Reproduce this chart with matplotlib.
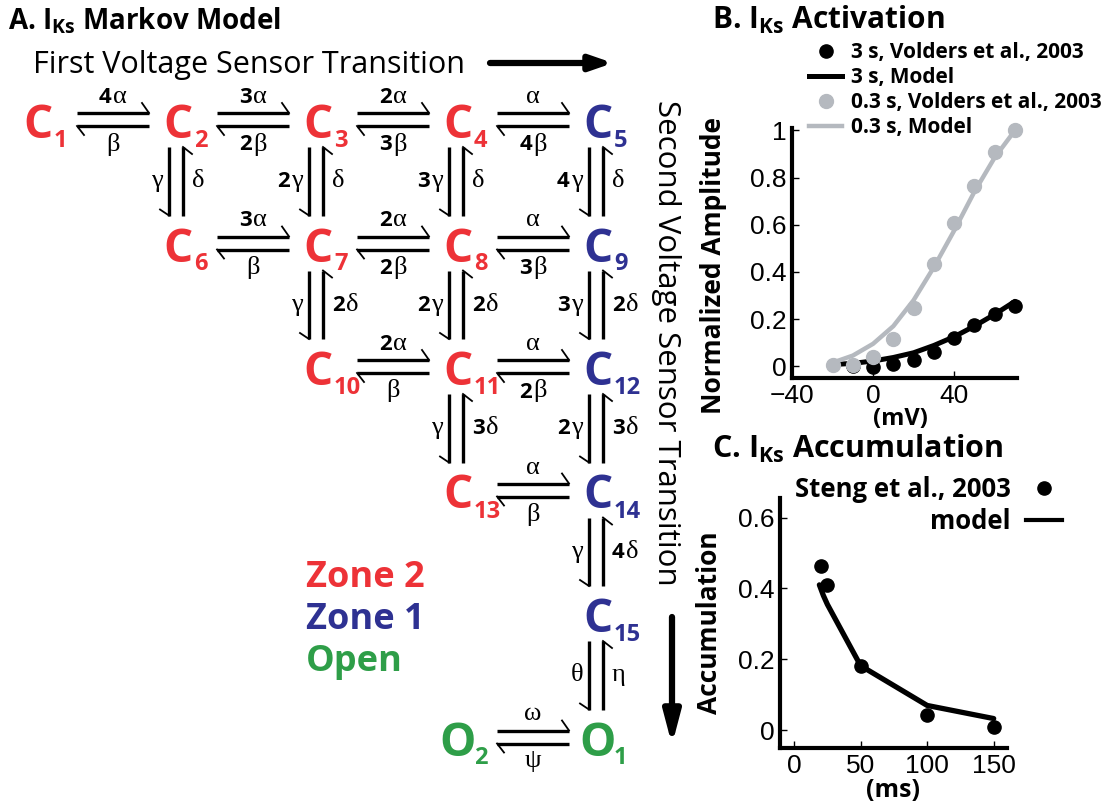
import re
import matplotlib
matplotlib.use("Agg")
import matplotlib.pyplot as plt
from matplotlib.lines import Line2D
from matplotlib.offsetbox import TextArea, HPacker, AnnotationBbox

plt.rcParams['font.family'] = ['Open Sans', 'DejaVu Sans']
plt.rcParams['mathtext.default'] = 'regular'

# ---- panel A: Markov model states and rates ----
states = ["C1", "C2", "C3", "C4", "C5", "C6", "C7", "C8", "C9", "C10",
          "C11", "C12", "C13", "C14", "C15", "O1", "O2"]
state_col = [0, 1, 2, 3, 4, 1, 2, 3, 4, 2, 3, 4, 3, 4, 4, 4, 3]
state_row = [0, 0, 0, 0, 0, 1, 1, 1, 1, 2, 2, 2, 3, 3, 4, 5, 5]
state_zone = ["Zone 2", "Zone 2", "Zone 2", "Zone 2", "Zone 1",
              "Zone 2", "Zone 2", "Zone 2", "Zone 1",
              "Zone 2", "Zone 2", "Zone 1",
              "Zone 2", "Zone 1", "Zone 1", "Open", "Open"]

h_pairs = [("C1", "C2"), ("C2", "C3"), ("C3", "C4"), ("C4", "C5"),
           ("C6", "C7"), ("C7", "C8"), ("C8", "C9"),
           ("C10", "C11"), ("C11", "C12"), ("C13", "C14"), ("O2", "O1")]
h_fwd = ["4α", "3α", "2α", "α", "3α", "2α", "α", "2α", "α", "α", "ω"]
h_bwd = ["β", "2β", "3β", "4β", "β", "2β", "3β", "β", "2β", "β", "ψ"]

v_pairs = [("C2", "C6"), ("C3", "C7"), ("C4", "C8"), ("C5", "C9"),
           ("C7", "C10"), ("C8", "C11"), ("C9", "C12"),
           ("C11", "C13"), ("C12", "C14"), ("C14", "C15"), ("C15", "O1")]
v_down = ["γ", "2γ", "3γ", "4γ", "γ", "2γ", "3γ", "γ", "2γ", "γ", "θ"]
v_up = ["δ", "δ", "δ", "δ", "2δ", "2δ", "2δ", "3δ", "3δ", "4δ", "η"]

zone_names = ["Zone 2", "Zone 1", "Open"]
zone_colors = {"Zone 2": "#ED3237", "Zone 1": "#2E3192", "Open": "#2E9E48"}

# ---- panel B: activation ----
v_3s = [-10, 0, 10, 20, 30, 40, 50, 60, 70]
amp_3s = [0.0, -0.003, 0.011, 0.025, 0.06, 0.12, 0.174, 0.223, 0.254]
v_3s_model = [-18, -10, 0, 10, 20, 30, 40, 50, 60, 70]
amp_3s_model = [0.008, 0.012, 0.022, 0.037, 0.057, 0.088, 0.125, 0.17, 0.22, 0.275]
v_03s = [-20, -10, 0, 10, 20, 30, 40, 50, 60, 70]
amp_03s = [0.005, 0.005, 0.04, 0.117, 0.245, 0.435, 0.607, 0.764, 0.908, 1.0]
v_03s_model = [-20, -10, 0, 10, 20, 30, 40, 50, 60, 70]
amp_03s_model = [0.015, 0.045, 0.095, 0.17, 0.28, 0.42, 0.575, 0.74, 0.885, 1.0]

# ---- panel C: accumulation ----
t_steng = [20, 25, 50, 100, 150]
acc_steng = [0.462, 0.41, 0.181, 0.042, 0.008]
t_model = [19, 22, 25, 50, 100, 150]
acc_model = [0.41, 0.38, 0.355, 0.182, 0.07, 0.033]

fig = plt.figure(figsize=(11.07, 8.07), dpi=100)

# diagram drawn in pixel-like coordinates
axd = fig.add_axes([0, 0, 1, 1])
axd.set_xlim(0, 1107)
axd.set_ylim(807, 0)
axd.axis('off')

x0, dx = 38, 140
y0, dy = 122, 123.5
pos = {}
for name, c, r in zip(states, state_col, state_row):
    pos[name] = (x0 + dx * c, y0 + dy * r)

for name, zone in zip(states, state_zone):
    cx, cy = pos[name]
    col = zone_colors[zone]
    axd.text(cx, cy + 16, name[0], fontsize=33, fontweight='bold', color=col,
             ha='center', va='baseline')
    axd.text(cx + 16, cy + 25, name[1:], fontsize=17, fontweight='bold', color=col,
             ha='left', va='baseline')


def rate_label(s, xy, align):
    m = re.match(r"(\d*)(.*)", s)
    kids = []
    if m.group(1):
        kids.append(TextArea(m.group(1), textprops=dict(fontsize=16, fontweight='bold',
                                                        family='Open Sans')))
    kids.append(TextArea(m.group(2), textprops=dict(fontsize=19, family='Liberation Serif')))
    box = HPacker(children=kids, align='baseline', pad=0, sep=1)
    ab = AnnotationBbox(box, xy, xycoords='data', box_alignment=align,
                        frameon=False, pad=0)
    axd.add_artist(ab)


lw_main, lw_barb = 2.4, 1.3
for (a, b), fw, bw in zip(h_pairs, h_fwd, h_bwd):
    xa, ya = pos[a]
    xb, yb = pos[b]
    xs, xe = xa + 39, xb - 29
    yt, yb2 = ya - 9, ya + 4
    axd.plot([xs, xe], [yt, yt], color='k', lw=lw_main, solid_capstyle='butt')
    axd.plot([xe, xe - 7], [yt, yt - 10], color='k', lw=lw_barb)
    axd.plot([xs, xe], [yb2, yb2], color='k', lw=lw_main, solid_capstyle='butt')
    axd.plot([xs, xs + 7], [yb2, yb2 + 9], color='k', lw=lw_barb)
    xm = (xs + xe) / 2
    rate_label(fw, (xm, ya - 25), (0.5, 0.5))
    rate_label(bw, (xm, ya + 22), (0.5, 0.5))

for (a, b), dn, up in zip(v_pairs, v_down, v_up):
    xa, ya = pos[a]
    xb, yb = pos[b]
    ys, ye = ya + 25, yb - 30
    xl, xr = xa - 9, xa + 5
    axd.plot([xl, xl], [ys, ye], color='k', lw=lw_main, solid_capstyle='butt')
    axd.plot([xl, xl - 9], [ye, ye - 6], color='k', lw=lw_barb)
    axd.plot([xr, xr], [ys, ye], color='k', lw=lw_main, solid_capstyle='butt')
    axd.plot([xr, xr + 9], [ys, ys + 7], color='k', lw=lw_barb)
    ym = (ys + ye) / 2
    rate_label(dn, (xl - 6, ym), (1, 0.5))
    rate_label(up, (xr + 9, ym), (0, 0.5))

axd.text(8, 29, "A. I$_{Ks}$ Markov Model", fontsize=20, fontweight='bold',
         ha='left', va='baseline')
axd.text(33, 73, "First Voltage Sensor Transition", fontsize=22,
         ha='left', va='baseline')
axd.annotate("", xy=(613, 63), xytext=(490, 63),
             arrowprops=dict(arrowstyle='-|>,head_length=1.3,head_width=0.45',
                             lw=4.5, color='k', shrinkA=0, shrinkB=0))
axd.text(666, 343, "Second Voltage Sensor Transition", fontsize=22.5, rotation=-90,
         ha='center', va='center')
axd.annotate("", xy=(672, 745), xytext=(672, 617),
             arrowprops=dict(arrowstyle='-|>,head_length=1.9,head_width=0.5',
                             lw=4.5, color='k', shrinkA=0, shrinkB=0))

for i, z in enumerate(zone_names):
    axd.text(306, 587 + 42 * i, z, fontsize=26, fontweight='bold',
             color=zone_colors[z], ha='left', va='baseline')

axd.text(712, 29, "B. I$_{Ks}$ Activation", fontsize=21.5, fontweight='bold',
         ha='left', va='baseline')
axd.text(712, 458, "C. I$_{Ks}$ Accumulation", fontsize=22, fontweight='bold',
         ha='left', va='baseline')

gray = '#B5B9BF'


def style_axes(ax):
    for s in ['top', 'right']:
        ax.spines[s].set_visible(False)
    for s in ['left', 'bottom']:
        ax.spines[s].set_linewidth(3)
    ax.tick_params(direction='in', length=5, width=1, labelsize=19, pad=4,
                   labelfontfamily='Liberation Sans')


# ---- panel B ----
axb = fig.add_axes([792 / 1107, 1 - 378 / 807, 225 / 1107, 250 / 807])
axb.plot(v_3s_model, amp_3s_model, color='k', lw=3.6, solid_capstyle='round',
         clip_on=False)
axb.plot(v_3s, amp_3s, 'o', color='k', ms=9.5, clip_on=False)
axb.plot(v_03s_model, amp_03s_model, color=gray, lw=3.2, solid_capstyle='round',
         clip_on=False)
axb.plot(v_03s, amp_03s, 'o', color=gray, ms=10, clip_on=False)
axb.set_xlim(-40, 71)
axb.set_ylim(-0.05, 1.01)
axb.set_xticks([-40, 0, 40])
axb.set_yticks([0, 0.2, 0.4, 0.6, 0.8, 1])
axb.set_yticklabels(["0", "0.2", "0.4", "0.6", "0.8", "1"])
style_axes(axb)
axb.set_ylabel("Normalized Amplitude", fontsize=19, fontweight='bold')
axb.yaxis.set_label_coords(-0.29, 0.45)
axb.set_xlabel("(mV)", fontsize=17, fontweight='bold')
axb.xaxis.set_label_coords(0.48, -0.115)

hb = [Line2D([], [], ls='none', marker='o', color='k', ms=9.5),
      Line2D([], [], color='k', lw=3.6),
      Line2D([], [], ls='none', marker='o', color=gray, ms=10),
      Line2D([], [], color=gray, lw=3.2)]
axb.legend(hb, ["3 s, Volders et al., 2003", "3 s, Model",
                "0.3 s, Volders et al., 2003", "0.3 s, Model"],
           loc='upper left', bbox_to_anchor=(809 / 1107, 1 - 42 / 807),
           bbox_transform=fig.transFigure, frameon=False,
           prop=dict(family='Open Sans', weight='bold', size=15),
           handlelength=1.6, handletextpad=0.4, labelspacing=0.2,
           borderpad=0, borderaxespad=0)

# ---- panel C ----
axc = fig.add_axes([780 / 1107, 1 - 748 / 807, 227 / 1107, 250 / 807])
axc.plot(t_model, acc_model, color='k', lw=3.8, solid_capstyle='round',
         solid_joinstyle='round', clip_on=False)
axc.plot(t_steng, acc_steng, 'o', color='k', ms=9.5, clip_on=False)
axc.set_xlim(-10.6, 160)
axc.set_ylim(-0.05, 0.655)
axc.set_xticks([0, 50, 100, 150])
axc.set_yticks([0, 0.2, 0.4, 0.6])
axc.set_yticklabels(["0", "0.2", "0.4", "0.6"])
style_axes(axc)
axc.set_ylabel("Accumulation", fontsize=19, fontweight='bold')
axc.yaxis.set_label_coords(-0.25, 0.5)
axc.set_xlabel("(ms)", fontsize=18, fontweight='bold')
axc.xaxis.set_label_coords(0.498, -0.12)

hc = [Line2D([], [], ls='none', marker='o', color='k', ms=9.5),
      Line2D([], [], color='k', lw=3)]
axc.legend(hc, ["Steng et al., 2003", "model"], loc='upper right',
           bbox_to_anchor=(1062 / 1107, 1 - 476 / 807),
           bbox_transform=fig.transFigure, frameon=False, markerfirst=False,
           prop=dict(family='Open Sans', weight='bold', size=18.5),
           handlelength=1.4, handletextpad=0.6, labelspacing=0.2,
           borderpad=0, borderaxespad=0)

fig.savefig("out.png", dpi=100)
